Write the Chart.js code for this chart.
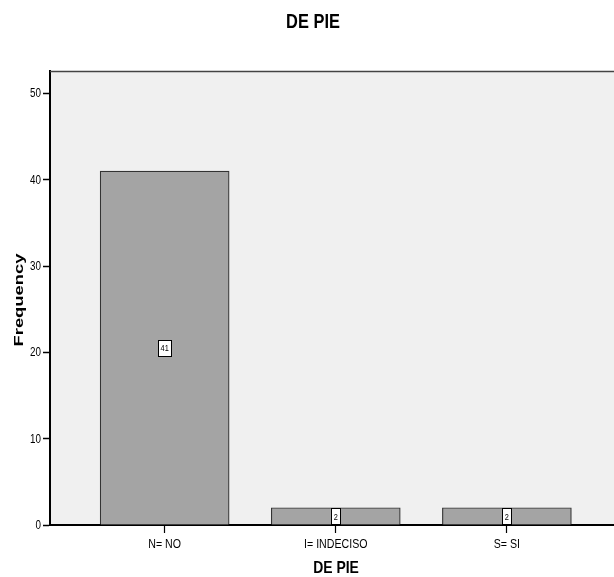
<!DOCTYPE html>
<html>
<head>
<meta charset="utf-8">
<script src="https://cdn.jsdelivr.net/npm/chart.js@4/dist/chart.umd.min.js"></script>
<style>
  html, body { margin: 0; padding: 0; background: #ffffff; }
  #wrap { width: 614px; height: 577px; position: relative; }
</style>
</head>
<body>
<div id="wrap"><canvas id="chart" width="614" height="577"></canvas></div>
<script>
// Frequency counts for the "DE PIE" item
const categories = ['N= NO', 'I= INDECISO', 'S= SI'];
const frequencies = [41, 2, 2];
const yTicks = [0, 10, 20, 30, 40, 50];

const chartTitle = 'DE PIE';
const xTitle = 'DE PIE';
const yTitle = 'Frequency';

const FONT = '"Liberation Sans", Arial, Helvetica, sans-serif';
const NARROW_X = 0.82; // horizontal squeeze giving an Arial-Narrow look

// Draws text squeezed horizontally around its anchor point
function narrowText(ctx, text, x, y, sx, align) {
  ctx.save();
  ctx.translate(x, y);
  ctx.scale(sx, 1);
  ctx.textAlign = align;
  ctx.fillText(text, 0, 0);
  ctx.restore();
}

// Plot-area fill, frame, tick labels, bar value boxes and the titles
const decorations = {
  id: 'decorations',
  beforeDraw(chart) {
    const { ctx, chartArea: a } = chart;
    ctx.save();
    ctx.fillStyle = '#f0f0f0';
    ctx.fillRect(a.left, a.top, a.right - a.left, a.bottom - a.top);
    ctx.restore();
  },
  afterDatasetsDraw(chart) {
    const { ctx, chartArea: a } = chart;
    ctx.save();
    // top frame line
    ctx.strokeStyle = '#444444';
    ctx.lineWidth = 1.5;
    ctx.beginPath();
    ctx.moveTo(a.left, a.top + 0.5);
    ctx.lineTo(a.right, a.top + 0.5);
    ctx.stroke();

    // value boxes centred on each bar
    const meta = chart.getDatasetMeta(0);
    ctx.font = '9px ' + FONT;
    ctx.textBaseline = 'middle';
    meta.data.forEach((bar, i) => {
      const label = String(frequencies[i]);
      const cx = bar.x;
      const cy = (bar.y + bar.base) / 2;
      const w = Math.round(ctx.measureText(label).width * NARROW_X) + 5;
      const h = 16;
      const x0 = Math.round(cx - w / 2) + 0.5;
      const y0 = Math.round(cy - h / 2) + 0.5;
      ctx.fillStyle = '#ffffff';
      ctx.fillRect(x0, y0, w, h);
      ctx.strokeStyle = '#000000';
      ctx.lineWidth = 1;
      ctx.strokeRect(x0, y0, w, h);
      ctx.fillStyle = '#000000';
      narrowText(ctx, label, cx, cy + 1, NARROW_X, 'center');
    });
    ctx.restore();
  },
  afterDraw(chart) {
    const { ctx, chartArea: a } = chart;
    const xs = chart.scales.x, ys = chart.scales.y;
    ctx.save();
    ctx.fillStyle = '#000000';

    // y tick labels
    ctx.font = '12px ' + FONT;
    ctx.textBaseline = 'middle';
    ys.ticks.forEach(t => {
      narrowText(ctx, String(t.value), a.left - 9, ys.getPixelForValue(t.value) + 0.5, NARROW_X, 'right');
    });

    // category labels
    ctx.font = '12.5px ' + FONT;
    ctx.textBaseline = 'alphabetic';
    xs.ticks.forEach(t => {
      narrowText(ctx, categories[t.value], xs.getPixelForValue(t.value), 547.5, 0.85, 'center');
    });

    // chart title
    ctx.font = 'bold 20px ' + FONT;
    narrowText(ctx, chartTitle, 313, 27.5, NARROW_X, 'center');

    // x-axis title
    ctx.font = 'bold 17px ' + FONT;
    narrowText(ctx, xTitle, (a.left + a.right) / 2 + 4, 573, NARROW_X, 'center');

    // y-axis title, stretched along its length
    ctx.font = 'bold 13px ' + FONT;
    ctx.textAlign = 'center';
    const tw = ctx.measureText(yTitle).width;
    const stretch = 93 / tw;
    ctx.translate(23, 300);
    ctx.rotate(-Math.PI / 2);
    ctx.scale(stretch, 1);
    ctx.fillText(yTitle, 0, 0);
    ctx.restore();
  }
};

new Chart(document.getElementById('chart'), {
  type: 'bar',
  data: {
    datasets: [{
      label: 'Frequency',
      data: frequencies.map((v, i) => ({ x: i, y: v })),
      backgroundColor: '#a4a4a4',
      borderColor: '#333333',
      borderWidth: 1.2,
      barThickness: 129
    }]
  },
  options: {
    responsive: false,
    animation: false,
    layout: { padding: { top: 71, left: 0, right: 0, bottom: 0 } },
    plugins: {
      legend: { display: false },
      title: { display: false },
      tooltip: { enabled: false }
    },
    scales: {
      x: {
        type: 'linear',
        min: -0.67,
        max: 2.626,
        offset: false,
        afterBuildTicks(scale) {
          scale.ticks = categories.map((_, i) => ({ value: i }));
        },
        afterFit(scale) { scale.height = 52; },
        ticks: { display: false, includeBounds: false, autoSkip: false },
        grid: {
          display: true,
          offset: false,
          drawOnChartArea: false,
          drawTicks: true,
          tickLength: 8,
          tickWidth: 1.2,
          tickColor: '#000000'
        },
        border: { display: true, color: '#000000', width: 2 }
      },
      y: {
        type: 'linear',
        min: 0,
        max: 52.6,
        afterBuildTicks(scale) {
          scale.ticks = yTicks.map(v => ({ value: v }));
        },
        afterFit(scale) { scale.width = 50; },
        ticks: { display: false, includeBounds: false },
        grid: {
          display: true,
          drawOnChartArea: false,
          drawTicks: true,
          tickLength: 7,
          tickWidth: 1.5,
          tickColor: '#000000'
        },
        border: { display: true, color: '#000000', width: 2 }
      }
    }
  },
  plugins: [decorations]
});
</script>
</body>
</html>
